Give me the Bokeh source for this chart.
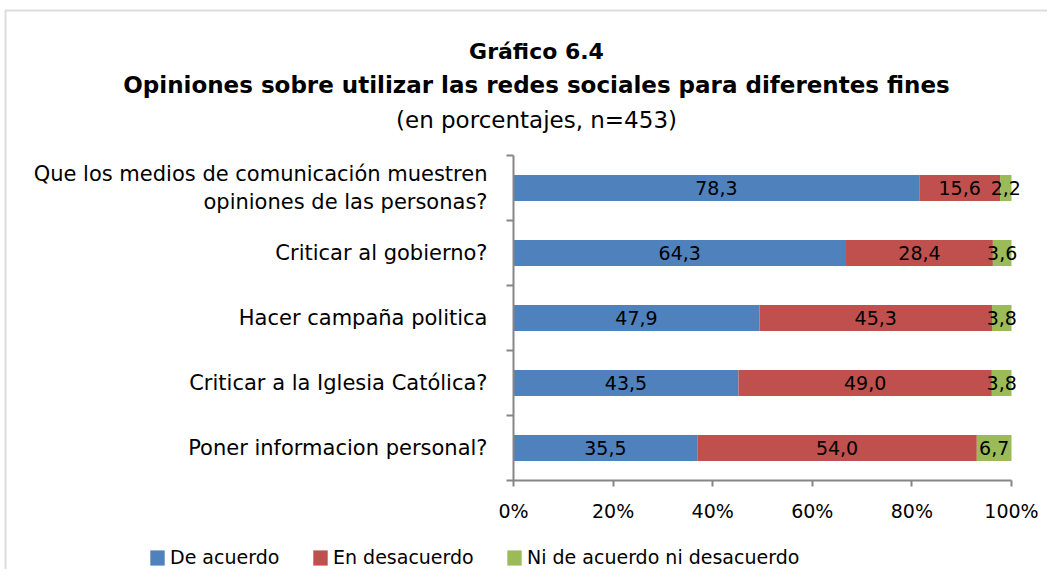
from bokeh.plotting import figure
from bokeh.models import (Range1d, LinearAxis, FixedTicker, NumeralTickFormatter,
                          ColumnDataSource, LabelSet, Legend, LegendItem, Label, BoxAnnotation)
from bokeh.core.properties import value
from bokeh.embed import file_html
from bokeh.resources import INLINE

# ---------------- data ----------------
categories = [
    "Que los medios de comunicación muestren\nopiniones de las personas?",
    "Criticar al gobierno?",
    "Hacer campaña politica",
    "Criticar a la Iglesia Católica?",
    "Poner informacion personal?",
]
de_acuerdo = [78.3, 64.3, 47.9, 43.5, 35.5]
en_desacuerdo = [15.6, 28.4, 45.3, 49.0, 54.0]
ni_ni = [2.2, 3.6, 3.8, 3.8, 6.7]
series_names = ["De acuerdo", "En desacuerdo", "Ni de acuerdo ni desacuerdo"]
colors = ["#4F81BD", "#C0504D", "#9BBB59"]
x_ticks = [0, 0.2, 0.4, 0.6, 0.8, 1.0]

FONT = "DejaVu Sans"
GRAY = "#868686"

# ---------------- layout constants (pixels) ----------------
W, H = 1047, 569
PX_X0, PX_X1 = 513, 1011      # 0 % and 100 %
PX_YTOP, PX_YBOT = 155, 480   # top / bottom of category axis

n = len(categories)
xs = PX_X1 - PX_X0
ys = (PX_YBOT - PX_YTOP) / n

# 100 % stacked shares
series = [de_acuerdo, en_desacuerdo, ni_ni]
totals = [sum(v) for v in zip(*series)]
shares = [[v / t for v, t in zip(s, totals)] for s in series]
ypos = [n - i - 0.5 for i in range(n)]   # first category on top

src = ColumnDataSource(dict(y=ypos, s0=shares[0], s1=shares[1], s2=shares[2]))

lab_y, lab_x, lab_txt = [], [], []
for i in range(n):
    start = 0.0
    for k in range(3):
        w = shares[k][i]
        lab_y.append(ypos[i])
        lab_x.append(start + w / 2)
        lab_txt.append(f"{series[k][i]:.1f}".replace(".", ","))
        start += w
lab_src = ColumnDataSource(dict(y=lab_y, x=lab_x, txt=lab_txt))

# ---------------- figure ----------------
p = figure(width=W, height=H,
           x_range=Range1d(-PX_X0 / xs, (W - PX_X0) / xs),
           y_range=Range1d(-(H - PX_YBOT) / ys, PX_YBOT / ys),
           output_backend="svg", toolbar_location=None,
           x_axis_location=None, y_axis_location=None,
           min_border=0)
p.outline_line_color = None
p.grid.visible = False
p.background_fill_color = "white"
p.border_fill_color = "white"

renderers = p.hbar_stack(["s0", "s1", "s2"], y="y", height=0.4, color=colors,
                         line_color=None, source=src)

p.add_layout(LabelSet(x="x", y="y", text="txt", source=lab_src,
                      text_align="center", text_baseline="middle",
                      text_font=value(FONT), text_font_size="19px", text_color="black"))

# y axis: boundary ticks
p.add_layout(LinearAxis(fixed_location=0, bounds=(0, n),
                        ticker=FixedTicker(ticks=list(range(n + 1))),
                        axis_line_color=GRAY, axis_line_width=2,
                        major_tick_line_color=GRAY, major_tick_line_width=2,
                        major_tick_out=7, major_tick_in=0,
                        minor_tick_line_color=None,
                        major_label_text_color=None), "left")
# y axis: category labels
p.add_layout(LinearAxis(fixed_location=0,
                        ticker=FixedTicker(ticks=ypos),
                        major_label_overrides={y: c for y, c in zip(ypos, categories)},
                        axis_line_color=None, major_tick_line_color=None,
                        major_tick_out=0, major_tick_in=0, minor_tick_line_color=None,
                        major_label_text_font=FONT, major_label_text_font_size="21px",
                        major_label_text_color="black", major_label_standoff=26), "left")

# x axis
p.add_layout(LinearAxis(fixed_location=0, bounds=(0, 1),
                        ticker=FixedTicker(ticks=x_ticks),
                        formatter=NumeralTickFormatter(format="0%"),
                        axis_line_color=GRAY, axis_line_width=2,
                        major_tick_line_color=GRAY, major_tick_line_width=2,
                        major_tick_out=6, major_tick_in=0,
                        minor_tick_line_color=None,
                        major_label_text_font=FONT, major_label_text_font_size="19px",
                        major_label_text_color="black", major_label_standoff=13), "below")

# legend: one entry per block so each square sits where the reference has it
legend_x = [148, 311, 505]
for name, r, lx in zip(series_names, renderers, legend_x):
    p.add_layout(Legend(items=[LegendItem(label=name, renderers=[r])],
                        location=(lx, 1), orientation="horizontal",
                        glyph_width=18, glyph_height=19, label_standoff=4,
                        padding=0, margin=0, border_line_color=None,
                        background_fill_alpha=0,
                        label_text_font=FONT, label_text_font_size="19px",
                        label_text_color="black"), "center")

# titles (baselines measured from the bottom of the canvas)
TX = 536
p.add_layout(Label(x=TX, y=H - 51, x_units="screen", y_units="screen", text="Gráfico 6.4",
                   text_align="center", text_baseline="alphabetic", text_font=FONT,
                   text_font_style="bold", text_font_size="22px", text_color="black"))
p.add_layout(Label(x=TX, y=H - 84, x_units="screen", y_units="screen",
                   text="Opiniones sobre utilizar las redes sociales para diferentes fines",
                   text_align="center", text_baseline="alphabetic", text_font=FONT,
                   text_font_style="bold", text_font_size="23px", text_color="black"))
p.add_layout(Label(x=TX, y=H - 119, x_units="screen", y_units="screen",
                   text="(en porcentajes, n=453)",
                   text_align="center", text_baseline="alphabetic", text_font=FONT,
                   text_font_size="23px", text_color="black"))

# outer chart border (top and left edges visible)
p.add_layout(BoxAnnotation(left=5, right=W + 50, top=H - 10, bottom=-50,
                           left_units="screen", right_units="screen",
                           top_units="screen", bottom_units="screen",
                           fill_color=None, line_color="#8c8c8c", line_width=2))

open("out.html", "w").write(file_html(p, INLINE))
